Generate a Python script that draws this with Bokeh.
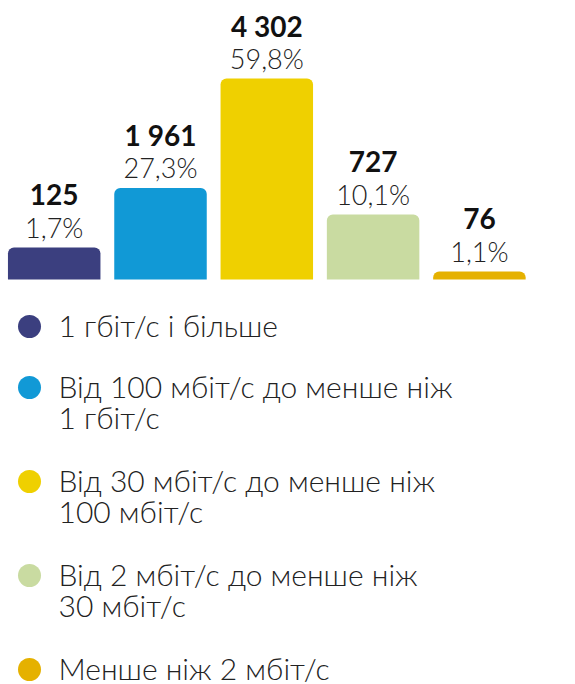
from bokeh.plotting import figure
from bokeh.layouts import column
from bokeh.models import Range1d, ColumnDataSource
from bokeh.core.properties import value
from bokeh.embed import file_html
from bokeh.resources import INLINE

# ---- data ----
categories = ["1 гбіт/с і більше",
              "Від 100 мбіт/с до менше ніж 1 гбіт/с",
              "Від 30 мбіт/с до менше ніж 100 мбіт/с",
              "Від 2 мбіт/с до менше ніж 30 мбіт/с",
              "Менше ніж 2 мбіт/с"]
counts = [125, 1961, 4302, 727, 76]
count_labels = ["125", "1 961", "4 302", "727", "76"]
pct_labels = ["1,7%", "27,3%", "59,8%", "10,1%", "1,1%"]
# drawn bar heights as they appear in the picture (same unit as counts)
bar_heights = [685, 1961, 4302, 1390, 170]
legend_lines = [["1 гбіт/с і більше"],
                ["Від 100 мбіт/с до менше ніж", "1 гбіт/с"],
                ["Від 30 мбіт/с до менше ніж", "100 мбіт/с"],
                ["Від 2 мбіт/с до менше ніж", "30 мбіт/с"],
                ["Менше ніж 2 мбіт/с"]]
colors = ["#3b3f7f", "#1199d6", "#efd000", "#c9dba1", "#e5b100"]

W = 575
H_TOP = 290
H_BOT = 394
STEP = 106.3  # px per category
ypx = 4302 / 201.0  # value units per px
LIGHT = value("Lato Light, Lato")

xs = list(range(len(counts)))
src = ColumnDataSource(dict(x=xs, top=bar_heights, color=colors,
                            cnt=count_labels, pct=pct_labels))

x0 = -53.7 / STEP
p = figure(width=W, height=H_TOP, output_backend="svg", toolbar_location=None,
           x_range=Range1d(x0, x0 + W / STEP),
           y_range=Range1d(-11 * ypx, 279 * ypx), min_border=0)
p.axis.visible = False
p.grid.visible = False
p.outline_line_color = None
p.background_fill_color = None
p.border_fill_color = None

p.vbar(x="x", top="top", bottom=0, width=92.5 / STEP, color="color", source=src,
       line_color=None, border_radius=(6, 6, 0, 0))
p.text(x="x", y="top", text="pct", source=src, text_align="center",
       text_baseline="alphabetic", y_offset=-20, text_font=LIGHT,
       text_font_size="27px", text_color="#222222")
p.text(x="x", y="top", text="cnt", source=src, text_align="center",
       text_baseline="alphabetic", y_offset=-53, text_font=value("Lato"),
       text_font_style="bold", text_font_size="28px", text_color="#111111")

# legend
q = figure(width=W, height=H_BOT, output_backend="svg", toolbar_location=None,
           x_range=Range1d(0, W), y_range=Range1d(H_BOT, 0), min_border=0)
q.axis.visible = False
q.grid.visible = False
q.outline_line_color = None
q.background_fill_color = None
q.border_fill_color = None

cy = []
lx, ly, lt = [], [], []
y = 36
for i, lines in enumerate(legend_lines):
    cy.append(y)
    for j, t in enumerate(lines):
        lx.append(58)
        ly.append(y - 2 + 31 * j)
        lt.append(t)
    y += 61 if len(lines) == 1 else 94

q.scatter(x=[29] * len(cy), y=cy, size=23, color=colors, line_color=None)
q.text(x=lx, y=ly, text=lt, text_align="left", text_baseline="alphabetic",
       text_font=LIGHT, text_font_size="30px", text_color="#222222")

layout = column(p, q, spacing=0)
open("out.html", "w").write(file_html(layout, INLINE))
